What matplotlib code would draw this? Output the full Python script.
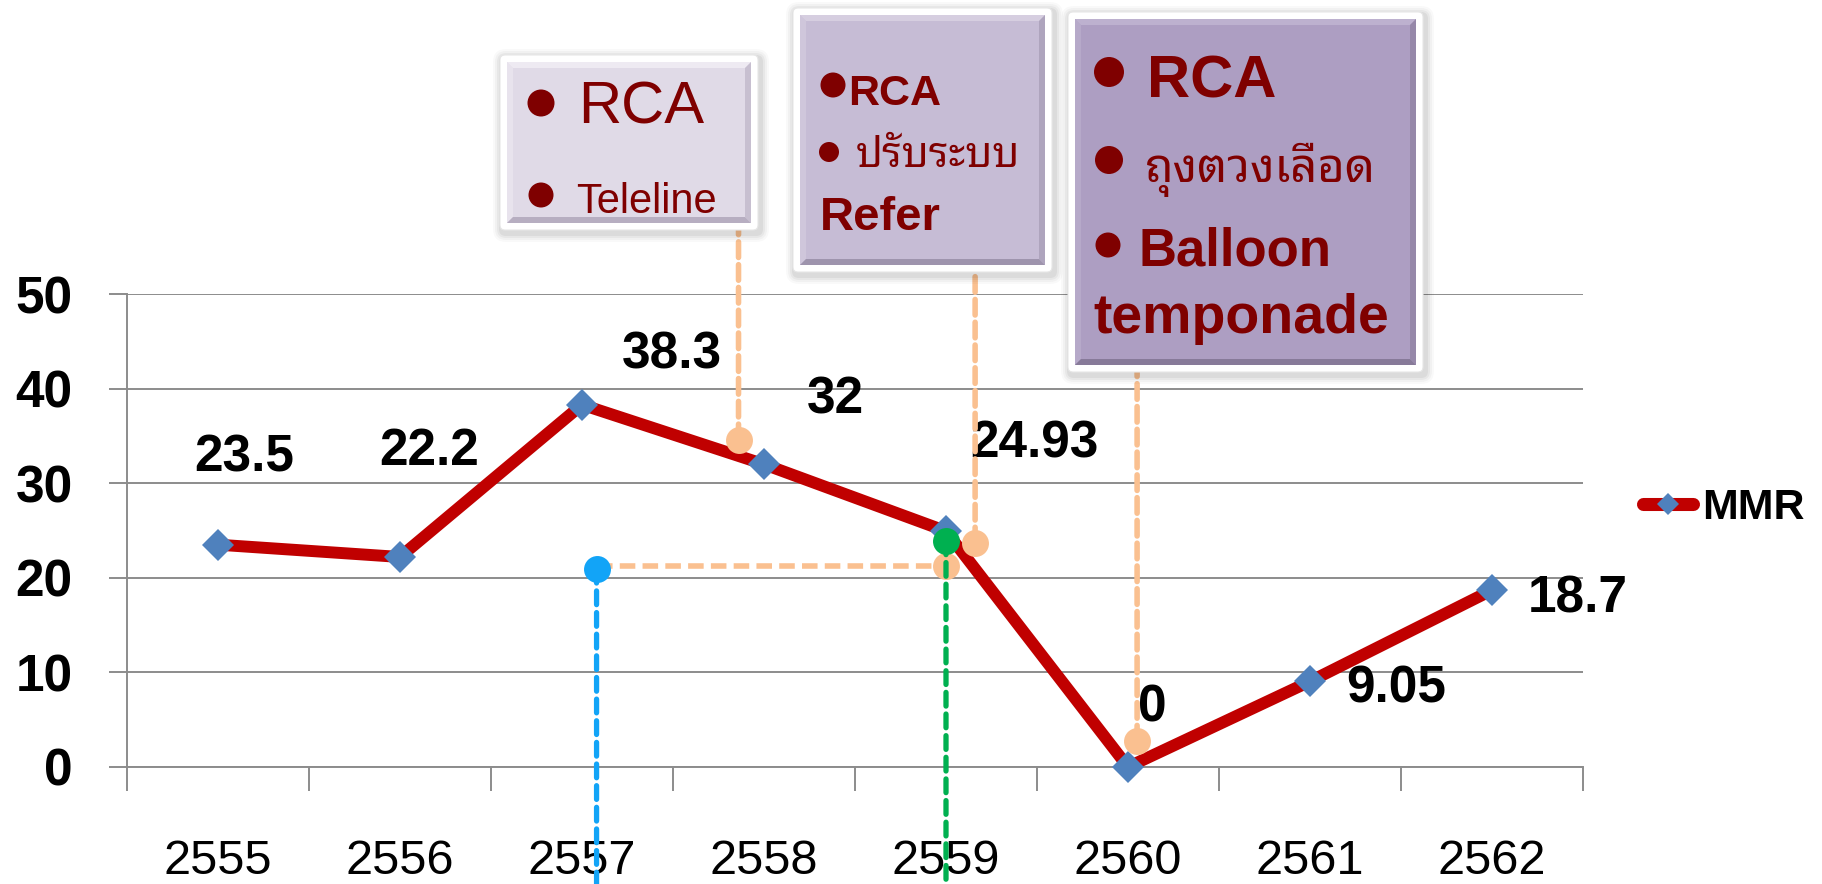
import numpy as np
import matplotlib
matplotlib.use('Agg')
import matplotlib.pyplot as plt
from matplotlib import font_manager as fm
from matplotlib.ft2font import FT2Font
from matplotlib.patches import Rectangle, FancyBboxPatch, Circle, Polygon, ConnectionPatch
from matplotlib.lines import Line2D
import matplotlib.transforms as mtransforms

# ---------------- data ----------------
years = ['2555', '2556', '2557', '2558', '2559', '2560', '2561', '2562']
mmr = [23.5, 22.2, 38.3, 32, 24.93, 0, 9.05, 18.7]
value_labels = ['23.5', '22.2', '38.3', '32', '24.93', '0', '9.05', '18.7']
y_ticks = [0, 10, 20, 30, 40, 50]
series_name = 'MMR'

# callout anchor points (x in category-index units, y in MMR units)
callout_x = [2.86, 4.16, 5.05]
callout_y = [34.6, 23.7, 2.75]
ref_blue = (2.08, 20.9)
ref_green = (4.0, 23.9)
hline_y = 21.2
hline_x = [2.08, 4.0]

box1_lines = ['RCA', 'Teleline']
box2_lines = ['RCA', 'ปรับระบบ', 'Refer']
box3_lines = ['RCA', 'ถุงตวงเลือด', 'Balloon', 'temponade']

# ---------------- fonts ----------------
def find_thai_font():
    cands = []
    for f in fm.fontManager.ttflist:
        try:
            ft = FT2Font(f.fname)
            if ft.get_char_index(0x0E1B) and ft.get_char_index(0x0E16):
                cands.append(f.name)
        except Exception:
            continue
    pref = ['Noto Sans Thai Looped', 'Tahoma', 'Leelawadee UI', 'Loma', 'Garuda', 'Waree',
            'Umpush', 'Tlwg Typo', 'Sawasdee', 'Noto Sans Thai', 'Noto Sans Thai UI']
    for p in pref:
        if p in cands:
            return p
    return cands[0] if cands else 'DejaVu Sans'

THAI = find_thai_font()
plt.rcParams['font.family'] = ['Liberation Sans', 'DejaVu Sans']

W, H = 1822, 884
PT = 100 / 72.0
fig = plt.figure(figsize=(W / 100, H / 100), dpi=100)
fig.patch.set_facecolor('white')

x0p, x1p, y0p, y1p = 127, 1583, 767, 294
ax = fig.add_axes([x0p / W, 1 - y0p / H, (x1p - x0p) / W, (y0p - y1p) / H])
xs = np.arange(len(years))
ax.set_xlim(-0.5, len(years) - 0.5)
ax.set_ylim(0, 50)

GRID = '#8C8C8C'
ax.set_yticks(y_ticks)
ax.yaxis.grid(True, color=GRID, lw=1.4)
ax.set_axisbelow(True)
for s in ['top', 'right']:
    ax.spines[s].set_visible(False)
for s in ['left', 'bottom']:
    ax.spines[s].set_color(GRID)
    ax.spines[s].set_linewidth(1.4)
ax.tick_params(axis='y', direction='out', length=13, width=1.4, color=GRID, pad=26, labelsize=37)
for t in ax.get_yticklabels():
    t.set_fontweight('bold')
ax.set_xticks(np.arange(-0.5, len(years), 1.0))
ax.set_xticklabels([])
ax.tick_params(axis='x', which='major', direction='out', length=17.3, width=1.4, color=GRID)
ax.set_xticks(xs, minor=True)
ax.set_xticklabels(years, minor=True)
ax.tick_params(axis='x', which='minor', length=0, pad=52, labelsize=35)

# main series
ax.plot(xs, mmr, color='#C00000', lw=8.6, marker='D', ms=16.8, mfc='#4F81BD', mec='#4F81BD',
        mew=0, solid_joinstyle='round', solid_capstyle='round', zorder=4, clip_on=False)

# value labels (offsets in pixels: dx right, dy down to baseline)
label_dx = [26, 29, 90, 71, 88, 24, 86, 86]
label_dy = [-73, -92, -36, -51, -74, -45, 21, 22]
for i in range(len(years)):
    ax.annotate(value_labels[i], (xs[i], mmr[i]), xytext=(label_dx[i] / PT, -label_dy[i] / PT),
                textcoords='offset points', ha='center', va='baseline', fontsize=37,
                fontweight='bold', color='black', zorder=4.5, annotation_clip=False)

ORANGE = '#FAC090'
BLUE = '#12A4F7'
GREEN = '#00B050'
blend = mtransforms.blended_transform_factory(ax.transData, fig.transFigure)

# callout verticals to boxes
box_bottoms = [230, 272, 372]
for cx, cy, bb in zip(callout_x, callout_y, box_bottoms):
    cp = ConnectionPatch(xyA=(cx, cy), coordsA=ax.transData, xyB=(cx, 1 - bb / H), coordsB=blend,
                         color=ORANGE, lw=4.0, linestyle=(0, (2.8, 1.3)), zorder=5)
    fig.add_artist(cp)

# horizontal orange
ax.plot(hline_x, [hline_y, hline_y], color=ORANGE, lw=4.0, linestyle=(0, (2.8, 1.3)), zorder=3.5,
        clip_on=False)
# blue & green verticals to bottom
for (px, py), col in [(ref_blue, BLUE), (ref_green, GREEN)]:
    cp = ConnectionPatch(xyA=(px, py), coordsA=ax.transData, xyB=(px, 0), coordsB=blend,
                         color=col, lw=3.8, linestyle=(0, (2.6, 1.5)), zorder=5)
    fig.add_artist(cp)

# circles
ax.plot(callout_x, callout_y, 'o', color=ORANGE, ms=19.4, mew=0, zorder=6, clip_on=False)
ax.plot([hline_x[1]], [hline_y], 'o', color=ORANGE, ms=19.4, mew=0, zorder=3.6, clip_on=False)
ax.plot([ref_blue[0]], [ref_blue[1]], 'o', color=BLUE, ms=19.4, mew=0, zorder=6, clip_on=False)
ax.plot([ref_green[0]], [ref_green[1]], 'o', color=GREEN, ms=19.4, mew=0, zorder=6.5, clip_on=False)

# legend
handle = Line2D([], [], color='#C00000', lw=9.4, marker='D', ms=11.7, mfc='#4F81BD', mec='#4F81BD',
                mew=0, solid_capstyle='round')
fig.legend(handles=[handle], labels=[series_name], loc='center left',
           bbox_to_anchor=(1643 / W, 1 - 508 / H), frameon=False, borderpad=0, borderaxespad=0,
           handlelength=1.16, handletextpad=0.22, prop=dict(weight='bold', size=31))

# ---------------- overlay (callout boxes) ----------------
oax = fig.add_axes([0, 0, 1, 1], zorder=10)
oax.set_xlim(0, W)
oax.set_ylim(H, 0)
oax.axis('off')
oax.patch.set_visible(False)

DR = '#7F0000'


def draw_box(bx0, by0, bx1, by1, fill, dark, light):
    for k, a in [(9, 0.025), (7, 0.03), (5, 0.04), (3, 0.05)]:
        oax.add_patch(FancyBboxPatch((bx0 - k + 2, by0 - k + 3), bx1 - bx0 + 2 * k, by1 - by0 + 2 * k,
                                     boxstyle=f'round,pad=0,rounding_size={k + 4}',
                                     fc='black', ec='none', alpha=a))
    oax.add_patch(FancyBboxPatch((bx0, by0), bx1 - bx0, by1 - by0,
                                 boxstyle='round,pad=0,rounding_size=5', fc='white',
                                 ec='#E6E6E6', lw=0.8))
    ix0, iy0, ix1, iy1 = bx0 + 7, by0 + 7, bx1 - 7, by1 - 7
    oax.add_patch(Rectangle((ix0, iy0), ix1 - ix0, iy1 - iy0, fc=fill, ec='none'))
    b = 6
    oax.add_patch(Polygon([(ix0, iy0), (ix1, iy0), (ix1 - b, iy0 + b), (ix0 + b, iy0 + b)],
                          fc=light, ec='none'))
    oax.add_patch(Polygon([(ix0, iy0), (ix0 + b, iy0 + b), (ix0 + b, iy1 - b), (ix0, iy1)],
                          fc=light, ec='none', alpha=0.6))
    oax.add_patch(Polygon([(ix1, iy0), (ix1, iy1), (ix1 - b, iy1 - b), (ix1 - b, iy0 + b)],
                          fc=dark, ec='none', alpha=0.6))
    oax.add_patch(Polygon([(ix0, iy1), (ix1, iy1), (ix1 - b, iy1 - b), (ix0 + b, iy1 - b)],
                          fc=dark, ec='none'))


def bullet(cx, cy, d):
    oax.add_patch(Circle((cx, cy), d / 2, fc=DR, ec='none'))


def txt(x, y, s, size, bold=False, thai=False):
    fam = [THAI, 'DejaVu Sans'] if thai else ['Liberation Sans', 'DejaVu Sans']
    oax.text(x, y, s, fontsize=size, fontweight='bold' if bold else 'normal', color=DR,
             ha='left', va='baseline', family=fam)


# box 1
draw_box(500, 55, 758, 230, '#E0DAE7', '#B7AEC1', '#EEEAF2')
bullet(541, 103, 27)
txt(578, 123, box1_lines[0], 43)
bullet(541, 195, 25)
txt(576, 213, box1_lines[1], 30)

# box 2
draw_box(793, 8, 1052, 272, '#C6BCD5', '#9E94AD', '#D6CEE0')
bullet(833, 85, 25)
txt(848, 105, box2_lines[0], 31, bold=True)
bullet(829, 152, 20)
txt(856, 167, box2_lines[1], 30, thai=True)
txt(820, 230, box2_lines[2], 34, bold=True)

# box 3
draw_box(1068, 12, 1423, 372, '#AD9EC2', '#877A99', '#BDB1CF')
bullet(1109, 72, 30)
txt(1147, 97, box3_lines[0], 43, bold=True)
bullet(1109, 160, 28)
txt(1145, 182, box3_lines[1], 34, thai=True)
bullet(1108, 245, 25)
txt(1138, 265, box3_lines[2], 38, bold=True)
txt(1093, 333, box3_lines[3], 40, bold=True)

fig.savefig('out.png', dpi=100, facecolor='white')
